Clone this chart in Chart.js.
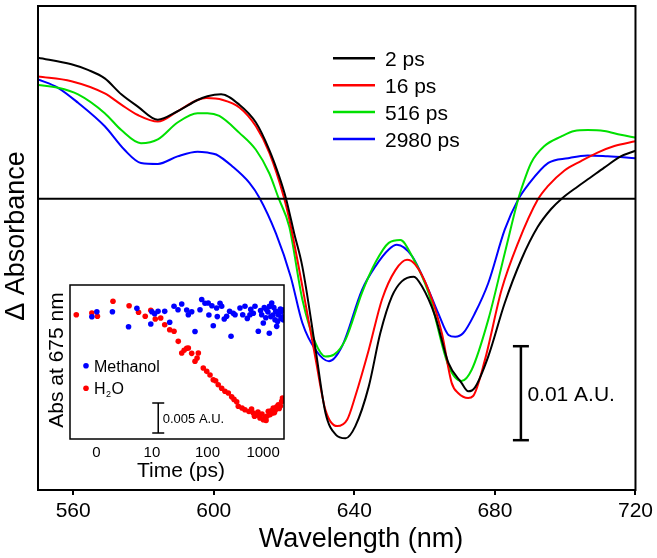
<!DOCTYPE html>
<html>
<head>
<meta charset="utf-8">
<script src="https://cdn.jsdelivr.net/npm/chart.js@4.4.0/dist/chart.umd.min.js"></script>
<style>
  html, body { margin: 0; padding: 0; background: #fff; }
  #wrap { position: relative; width: 657px; height: 558px; }
  #mainChart { position: absolute; left: 0; top: 0; }
  #insetChart { position: absolute; left: 40px; top: 280px; }
</style>
</head>
<body>
<div id="wrap">
  <canvas id="mainChart" width="657" height="558"></canvas>
  <canvas id="insetChart" width="250" height="205"></canvas>
</div>
<script>
// ===== spectra: wavelength (nm) and ΔA (mOD) =====
const wl2ps = [550, 559.5, 564.2, 569, 573.7, 578.4, 584.1, 589.7, 595.4, 598.2, 602.1, 607.3, 612, 615.8, 618.6, 620.5, 622.9, 625.2, 629, 631.8, 634.7, 637.5, 640.3, 644.1, 647.4, 650.7, 653.5, 656.9, 659.2, 663, 666.8, 670.5, 672.4, 674.3, 678.1, 682.8, 687.5, 692.2, 696, 699, 703.6, 707, 711.1, 715.8, 720];
const abs2ps = [15.0, 14.3, 13.7, 12.8, 11.1, 9.8, 8.4, 9.3, 10.5, 10.9, 11.1, 10.0, 8.1, 5.2, 2.4, 0.1, -3.7, -7.2, -16.1, -22.8, -25.1, -25.5, -24.2, -20.0, -14.3, -10.4, -8.8, -8.3, -9.3, -12.5, -17.5, -19.6, -20.5, -20.1, -16.8, -11.1, -6.5, -3.0, -1.1, 0.0, 1.3, 2.2, 3.3, 4.5, 5.1];

const wl16ps = [550, 559.5, 569, 573.7, 578.4, 584.1, 589.7, 595.4, 597.9, 602.6, 607.3, 612, 615.8, 620, 621.5, 625.2, 629, 631.8, 635.1, 638, 640.3, 644.1, 647.9, 651.7, 655, 657.3, 661.1, 664.9, 667.7, 669.6, 672.4, 673.8, 677.2, 681.9, 686.6, 692.2, 695, 699.8, 704.5, 709.2, 714, 720];
const abs16ps = [13.0, 12.5, 11.2, 10.0, 8.9, 8.2, 9.3, 10.5, 10.7, 10.5, 9.7, 7.7, 4.9, 0.1, -2.2, -9.3, -17.1, -22.5, -24.2, -23.5, -21.0, -16.1, -10.7, -7.6, -6.5, -7.0, -9.7, -14.3, -19.6, -20.7, -21.2, -21.0, -17.1, -9.7, -4.7, -0.1, 1.3, 3.0, 4.0, 4.9, 5.6, 6.1];

const wl516ps = [550, 555.7, 561.4, 569, 573.7, 579.3, 584.1, 589.7, 595.4, 598.2, 601.6, 607.3, 612, 615.8, 618.4, 621.5, 625.2, 629, 631.8, 634.2, 637.5, 642.2, 646, 649.8, 653.1, 656.4, 661.1, 666.8, 670.5, 673.4, 678.1, 682.8, 686.6, 687.5, 690.3, 694.1, 698.8, 702.6, 706.4, 711.1, 715.8, 720];
const abs516ps = [12.1, 11.8, 11.1, 9.1, 7.3, 5.9, 6.3, 8.1, 9.1, 9.1, 8.8, 7.0, 5.2, 2.7, 0.1, -3.0, -10.7, -15.4, -16.8, -16.6, -15.0, -10.0, -6.8, -4.7, -4.4, -6.1, -10.0, -17.8, -19.4, -18.2, -12.9, -5.8, -0.1, 1.0, 3.8, 5.6, 6.6, 7.2, 7.3, 7.2, 6.8, 6.5];

const wl2980ps = [550, 555.7, 561.4, 569, 574.6, 579.3, 584.1, 589.7, 595.4, 598.2, 600.7, 605.4, 610.1, 613, 617.7, 621.9, 625.2, 629, 632.8, 636.5, 642.2, 646, 649.8, 652.1, 656.4, 661.1, 663.9, 666.8, 668.7, 671, 674.3, 678.1, 682.8, 686.6, 689.5, 695.2, 700.8, 706.4, 712.1, 720];
const abs2980ps = [12.7, 11.8, 10.2, 7.7, 5.2, 3.8, 3.7, 4.5, 5.0, 4.9, 4.7, 3.4, 1.7, 0.1, -3.7, -8.3, -13.2, -16.1, -17.3, -15.7, -9.7, -7.2, -5.4, -4.9, -6.1, -9.7, -12.2, -14.5, -14.7, -14.3, -12.2, -9.0, -3.3, -0.1, 1.5, 3.8, 4.3, 4.6, 4.5, 4.3];

const spectraLabels = ["2 ps", "16 ps", "516 ps", "2980 ps"];
const spectraColors = ["#000000", "#ff0000", "#00e000", "#0000ff"];
const wavelengthTicks = [560, 600, 640, 680, 720];

// ===== inset: absorbance at 675 nm vs time (ps), mOD =====
const timeMeOH = [-0.8, 0.1, 2.9, 5.8, 7.3, 9.8, 10, 11.2, 12.9, 17, 20.9, 25, 29.5, 34.4, 42.3, 45.2, 52, 59.6, 73.3, 78.7, 90.2, 103, 106, 120, 127, 146, 150, 168, 180, 200, 221, 250, 265, 291, 313, 384, 430, 472, 520, 581, 600, 667, 715, 820, 900, 944, 1009, 1050, 1120, 1161, 1225, 1294, 1300, 1380, 1429, 1507, 1560, 1637, 1690, 1757, 1820, 1877, 1950, 2046, 2100, 2161, 2234, 2280, 2328];
const absMeOH = [-0.62, 0.22, 0.22, -2.28, 0.78, -1.83, 0.22, -0.12, 0.28, 0.28, -1.55, 1.12, 0.55, 1.5, 0.5, -0.28, 0.22, -3.08, 0.55, 2.25, 1.62, 1.67, -0.33, 1.2, -2.12, 0.83, -0.6, 1.62, 1.12, -1.0, -0.55, 0.3, -3.88, -0.05, -0.28, 0.83, -0.3, 1.12, -0.9, -0.28, 0.6, -0.05, 1.12, -3.05, 0.4, -0.28, -1.67, 0.9, -0.8, 0.55, 0.17, -3.38, 1.1, -0.6, 1.67, -0.33, 0.9, -1.12, 0.3, -2.22, -1.4, -0.28, 0.2, 0.67, -0.9, 0.28, -0.62, 0.5, -1.17];

const timeH2O = [-3.6, -0.8, 0.2, 3.0, 5.9, 7.6, 8.8, 9.8, 11.5, 14.4, 17, 20.9, 25, 29.8, 34.4, 38, 42.3, 45.2, 52, 59.6, 65, 68.4, 84, 96.8, 111, 127, 140, 156, 180, 206, 237, 272, 300, 335, 358, 418, 472, 557, 620, 667, 700, 761, 809, 850, 879, 955, 1009, 1082, 1130, 1180, 1241, 1331, 1400, 1469, 1525, 1600, 1663, 1757, 1877, 1950, 2046, 2161, 2234, 2300];
const absH2O = [-0.28, 0.0, -0.55, 1.95, 1.22, 0.12, -0.55, 0.45, -1.0, -0.83, -1.95, -2.78, -3.05, -4.72, -6.67, -6.2, -5.88, -5.83, -6.72, -8.05, -7.5, -6.67, -9.17, -9.72, -10.33, -11.12, -11.3, -11.95, -12.55, -13.05, -13.33, -13.95, -14.4, -14.78, -15.55, -15.83, -16.12, -16.42, -16.0, -16.67, -17.2, -17.0, -16.5, -17.0, -17.5, -16.83, -17.78, -17.33, -17.9, -17.17, -16.38, -16.95, -16.3, -16.67, -15.83, -16.6, -16.17, -15.62, -15.28, -15.9, -15.5, -14.72, -14.17, -14.6];

const insetTimeTicks = [0, 10, 100, 1000];

const FONTE = '"Liberation Sans", Arial, Helvetica, sans-serif';
Chart.defaults.font.family = FONTE;
Chart.defaults.color = "#000";

function pares(xs, ys) {
  return xs.map((x, i) => ({ x: x, y: ys[i] }));
}

function linha(ctx, x1, y1, x2, y2) {
  ctx.beginPath();
  ctx.moveTo(x1, y1);
  ctx.lineTo(x2, y2);
  ctx.stroke();
}

function textoVertical(ctx, texto, x, y, tamanho) {
  ctx.save();
  ctx.translate(x, y);
  ctx.rotate(-Math.PI / 2);
  ctx.font = tamanho + "px " + FONTE;
  ctx.textAlign = "center";
  ctx.textBaseline = "alphabetic";
  ctx.fillText(texto, 0, 0);
  ctx.restore();
}

// barra de escala vertical com texto ao lado
function barraEscala(ctx, x, yTop, yBot, cap, largura, texto, tamanho, dx) {
  ctx.lineWidth = largura;
  linha(ctx, x, yTop, x, yBot);
  linha(ctx, x - cap, yTop, x + cap, yTop);
  linha(ctx, x - cap, yBot, x + cap, yBot);
  ctx.font = tamanho + "px " + FONTE;
  ctx.textAlign = "left";
  ctx.textBaseline = "alphabetic";
  ctx.fillText(texto, x + dx, (yTop + yBot) / 2 + tamanho * 0.36);
}

// ===== escala "linear até 10 ps, log depois" para o inset =====
function linLog(t) {
  return t <= 10 ? t / 10 : 1 + Math.log10(t / 10);
}
class LinLogScale extends Chart.LinearScale {
  static id = "linlog";
  static defaults = {};
  getPixelForValue(v) {
    const a = linLog(this.min), b = linLog(this.max);
    return this.getPixelForDecimal((linLog(v) - a) / (b - a));
  }
  getValueForPixel(p) {
    const a = linLog(this.min), b = linLog(this.max);
    const u = a + this.getDecimalForPixel(p) * (b - a);
    return u <= 1 ? u * 10 : Math.pow(10, u);
  }
}
Chart.register(LinLogScale);

// ========== GRÁFICO PRINCIPAL ==========
const extrasPrincipal = {
  id: "extrasPrincipal",
  afterDraw(chart) {
    const { ctx, chartArea: a, scales } = chart;
    const x = scales.x, y = scales.y;
    ctx.save();
    ctx.strokeStyle = "#000";
    ctx.fillStyle = "#000";
    ctx.lineWidth = 2;
    ctx.strokeRect(a.left, a.top, a.right - a.left, a.bottom - a.top);
    const y0 = y.getPixelForValue(0);
    linha(ctx, a.left, y0, a.right, y0);

    // 0.01 A.U. = 10 mOD
    barraEscala(ctx, x.getPixelForValue(687.4), y.getPixelForValue(-15.7), y.getPixelForValue(-25.7),
      8, 2.5, "0.01 A.U.", 21, 6.5);

    // legenda
    chart.data.datasets.forEach((ds, i) => {
      const ly = 58.3 + i * 26.9;
      ctx.strokeStyle = ds.borderColor;
      ctx.lineWidth = 2.5;
      linha(ctx, 333, ly, 375, ly);
      ctx.font = "21px " + FONTE;
      ctx.textAlign = "left";
      ctx.textBaseline = "alphabetic";
      ctx.fillText(ds.label, 385, ly + 7.5);
    });

    // títulos dos eixos
    ctx.font = "27px " + FONTE;
    ctx.textAlign = "center";
    ctx.textBaseline = "alphabetic";
    ctx.fillText("Wavelength (nm)", 361, 547);
    textoVertical(ctx, "\u0394 Absorbance", 24, 236, 27);
    ctx.restore();
  }
};

const seriesWl = [wl2ps, wl16ps, wl516ps, wl2980ps];
const seriesAbs = [abs2ps, abs16ps, abs516ps, abs2980ps];

new Chart(document.getElementById("mainChart"), {
  type: "line",
  data: {
    datasets: spectraLabels.map((lab, i) => ({
      label: lab,
      data: pares(seriesWl[i], seriesAbs[i]),
      borderColor: spectraColors[i],
      borderWidth: 2,
      pointRadius: 0,
      cubicInterpolationMode: "monotone",
      fill: false,
    })),
  },
  options: {
    responsive: false,
    animation: false,
    events: [],
    layout: { padding: { top: 6, right: 18, left: 0, bottom: 0 } },
    plugins: { legend: { display: false }, tooltip: { enabled: false } },
    scales: {
      x: {
        type: "linear",
        min: 550,
        max: 720,
        afterBuildTicks: (s) => { s.ticks = wavelengthTicks.map((v) => ({ value: v })); },
        afterFit: (s) => { s.height = 68; },
        grid: { display: true, drawOnChartArea: false, drawTicks: true, tickLength: 5, color: "#000", lineWidth: 2 },
        border: { display: false },
        ticks: { font: { size: 21 }, color: "#000", padding: 4, maxRotation: 0, autoSkip: false },
      },
      y: {
        min: -31,
        max: 20.5,
        afterFit: (s) => { s.width = 38; },
        ticks: { display: false },
        grid: { display: false },
        border: { display: false },
      },
    },
  },
  plugins: [extrasPrincipal],
});

// ========== INSET ==========
const extrasInset = {
  id: "extrasInset",
  beforeDatasetsDraw(chart) {
    const { ctx, chartArea: a } = chart;
    ctx.save();
    ctx.fillStyle = "#fff";
    ctx.fillRect(a.left, a.top, a.right - a.left, a.bottom - a.top);
    ctx.restore();
  },
  afterDraw(chart) {
    const { ctx, chartArea: a, scales } = chart;
    const x = scales.x, y = scales.y;
    ctx.save();
    ctx.strokeStyle = "#000";
    ctx.fillStyle = "#000";
    ctx.lineWidth = 1.5;
    ctx.strokeRect(a.left, a.top, a.right - a.left, a.bottom - a.top);

    // 0.005 A.U. = 5 mOD
    barraEscala(ctx, x.getPixelForValue(13), y.getPixelForValue(-15), y.getPixelForValue(-20),
      6, 1.5, "0.005 A.U.", 13, 4.5);

    // legenda
    const ds = chart.data.datasets;
    ctx.textAlign = "left";
    ctx.textBaseline = "alphabetic";
    [85.7, 108.3].forEach((ly, i) => {
      ctx.fillStyle = ds[i].backgroundColor;
      ctx.beginPath();
      ctx.arc(46, ly, 2.8, 0, Math.PI * 2);
      ctx.fill();
    });
    ctx.fillStyle = "#000";
    ctx.font = "16px " + FONTE;
    ctx.fillText("Methanol", 54, 85.7 + 5.8);
    ctx.fillText("H", 54, 108.3 + 5.8);
    const wH = ctx.measureText("H").width;
    ctx.font = "9px " + FONTE;
    ctx.fillText("2", 54 + wH + 0.5, 108.3 + 8.5);
    const w2 = ctx.measureText("2").width;
    ctx.font = "16px " + FONTE;
    ctx.fillText("O", 54 + wH + w2 + 1, 108.3 + 5.8);

    // títulos
    ctx.font = "21px " + FONTE;
    ctx.textAlign = "center";
    ctx.fillText("Time (ps)", 141, 196.7);
    textoVertical(ctx, "Abs at 675 nm", 23, 80, 21);
    ctx.restore();
  }
};

new Chart(document.getElementById("insetChart"), {
  type: "scatter",
  data: {
    datasets: [
      { label: "Methanol", data: pares(timeMeOH, absMeOH), backgroundColor: "#0000ff", borderWidth: 0, pointRadius: 2.8 },
      { label: "H2O", data: pares(timeH2O, absH2O), backgroundColor: "#ff0000", borderWidth: 0, pointRadius: 2.8 },
    ],
  },
  options: {
    responsive: false,
    animation: false,
    events: [],
    layout: { padding: { top: 5, right: 6, left: 0, bottom: 0 } },
    plugins: { legend: { display: false }, tooltip: { enabled: false } },
    scales: {
      x: {
        type: "linlog",
        min: -4.73,
        max: 2377,
        afterBuildTicks: (s) => { s.ticks = insetTimeTicks.map((v) => ({ value: v })); },
        afterFit: (s) => { s.height = 46; },
        grid: { display: false, drawTicks: false },
        border: { display: false },
        ticks: { font: { size: 15 }, color: "#000", padding: 5, maxRotation: 0, autoSkip: false, callback: (v) => String(v) },
      },
      y: {
        min: -21,
        max: 4.67,
        afterFit: (s) => { s.width = 30; },
        ticks: { display: false },
        grid: { display: false },
        border: { display: false },
      },
    },
  },
  plugins: [extrasInset],
});
</script>
</body>
</html>
